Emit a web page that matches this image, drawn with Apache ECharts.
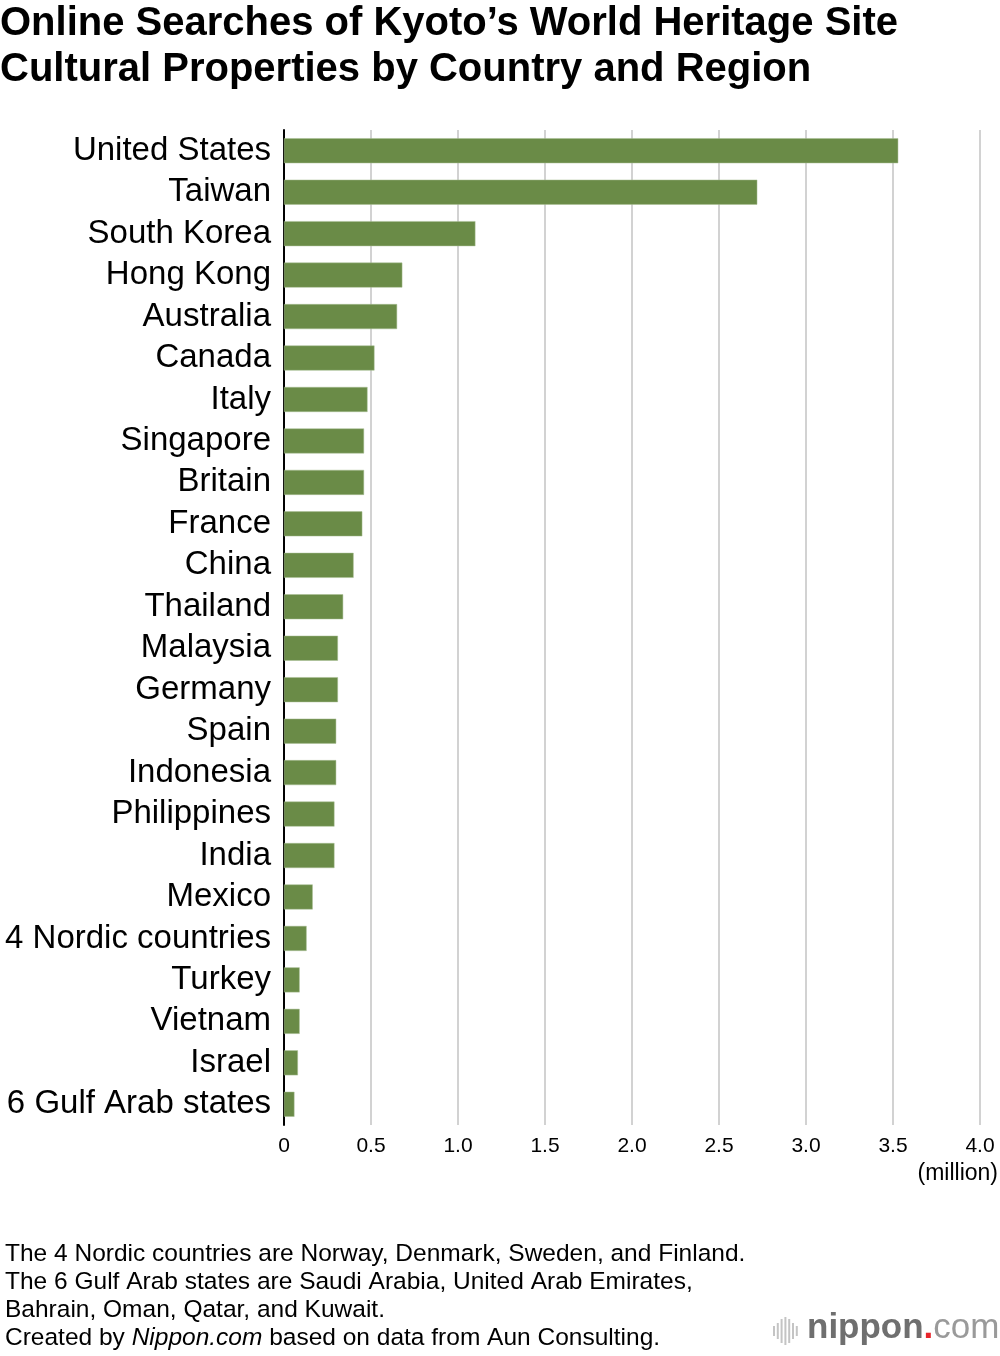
<!DOCTYPE html>
<html>
<head>
<meta charset="utf-8">
<script src="https://cdn.jsdelivr.net/npm/echarts@6/dist/echarts.min.js"></script>
<style>
html,body{margin:0;padding:0;background:#fff;}
#chart{width:1000px;height:1356px;}
</style>
</head>
<body>
<div id="chart"></div>
<script>
const categories = ["United States","Taiwan","South Korea","Hong Kong","Australia","Canada","Italy","Singapore","Britain","France","China","Thailand","Malaysia","Germany","Spain","Indonesia","Philippines","India","Mexico","4 Nordic countries","Turkey","Vietnam","Israel","6 Gulf Arab states"];
const searches = [3.53,2.72,1.10,0.68,0.65,0.52,0.48,0.46,0.46,0.45,0.40,0.34,0.31,0.31,0.30,0.30,0.29,0.29,0.165,0.13,0.09,0.09,0.08,0.06];
const xTicks = {min:0, max:4, interval:0.5};
const titleLines = ["Online Searches of Kyoto\u2019s World Heritage Site","Cultural Properties by Country and Region"];
const notes = ["The 4 Nordic countries are Norway, Denmark, Sweden, and Finland.","The 6 Gulf Arab states are Saudi Arabia, United Arab Emirates,","Bahrain, Oman, Qatar, and Kuwait."];

const chart = echarts.init(document.getElementById('chart'), null, {renderer:'canvas'});
const FONT = '"Liberation Sans", Arial, sans-serif';

const graphics = [
  {type:'text', left:0, top:1, style:{text:titleLines.join('\n'), font:'bold 40px '+FONT, fill:'#000', lineHeight:46}},
  {type:'text', right:2, top:1162, style:{text:'(million)', font:'23px '+FONT, fill:'#000', textAlign:'right'}},
  {type:'text', left:5, top:1240, style:{
    rich:{n:{font:'24.5px '+FONT, fill:'#000'}, i:{font:'italic 24.5px '+FONT, fill:'#000'}},
    text:notes.map(s=>'{n|'+s+'}').join('\n')+'\n{n|Created by }{i|Nippon.com}{n| based on data from Aun Consulting.}',
    lineHeight:28}},
  {type:'text', left:807, top:1311, style:{
    rich:{a:{font:'bold 35px '+FONT, fill:'#6f6f6f'}, d:{font:'bold 35px '+FONT, fill:'#e8252b'}, c:{font:'35px '+FONT, fill:'#9a9a9a'}},
    text:'{a|nippon}{d|.}{c|com}'}}
];
const barHeights=[10,16,24,28,24,16,10];
barHeights.forEach((h,i)=>{
  graphics.push({type:'rect', left:773+i*3.8, top:1331-h/2, shape:{width:2,height:h}, style:{fill:'#c4c4c4'}});
});

chart.setOption({
  animation:false,
  backgroundColor:'#fff',
  grid:{left:284, right:20, top:130, bottom:231, containLabel:false},
  xAxis:{type:'value', min:xTicks.min, max:xTicks.max, interval:xTicks.interval,
    axisLine:{show:false}, axisTick:{show:false},
    axisLabel:{color:'#000', fontSize:21, fontFamily:FONT, margin:11,
      formatter:v=> v===0?'0':v.toFixed(1)},
    splitLine:{show:true, lineStyle:{color:'#d2d2d2', width:2}}},
  yAxis:{type:'category', data:categories, inverse:true,
    axisLine:{show:true, lineStyle:{color:'#000', width:2}},
    axisTick:{show:false},
    axisLabel:{color:'#000', fontSize:33, fontFamily:FONT, margin:13, interval:0, hideOverlap:false}},
  series:[{type:'bar', data:searches, barWidth:25,
    itemStyle:{color:'#6a8b47', borderColor:'#a9bf95', borderWidth:0.5}}],
  graphic:graphics
});
</script>
</body>
</html>
